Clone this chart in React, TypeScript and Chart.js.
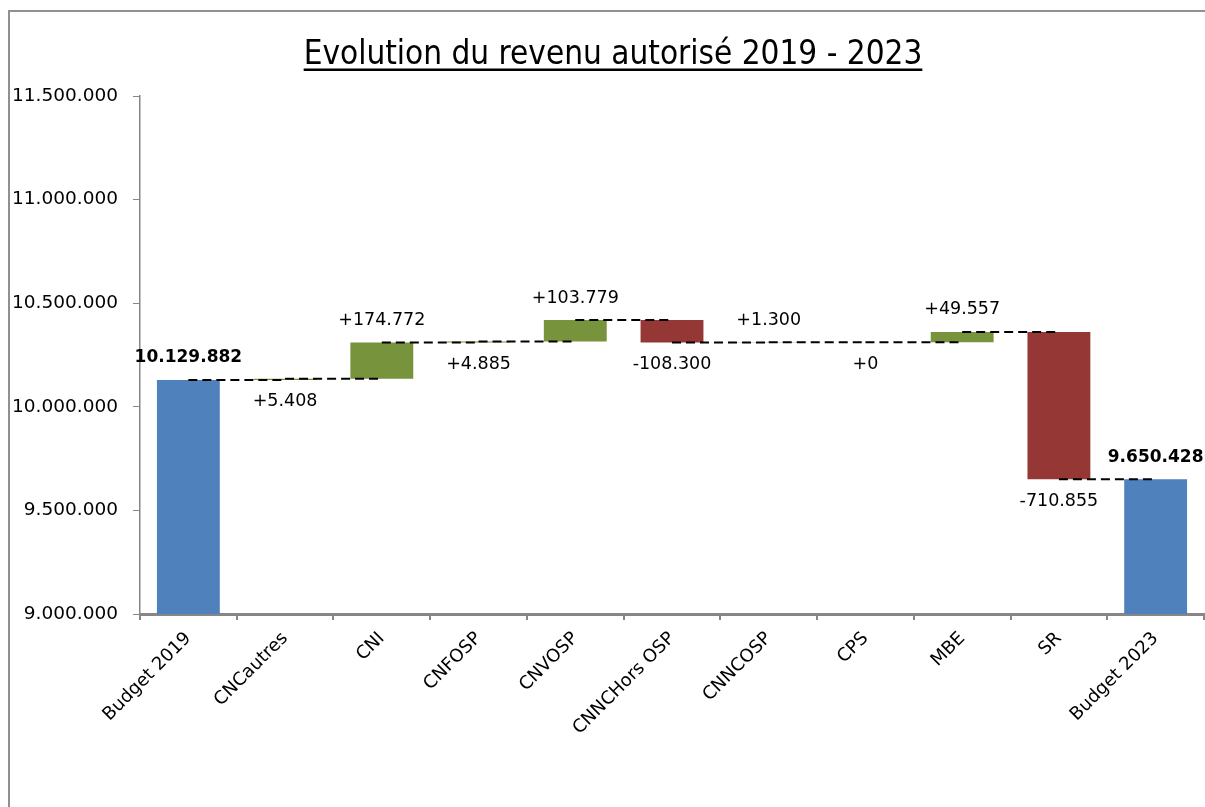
import React, { useEffect, useRef } from 'react';
import { Chart, registerables } from 'chart.js';

Chart.register(...registerables);

const title = 'Evolution du revenu autorisé 2019 - 2023';
const categories = ['Budget 2019', 'CNCautres', 'CNI', 'CNFOSP', 'CNVOSP', 'CNNCHors OSP', 'CNNCOSP', 'CPS', 'MBE', 'SR', 'Budget 2023'];
const startTotal = 10129882;
const deltas = [5408, 174772, 4885, 103779, -108300, 1300, 0, 49557, -710855];
const endTotal = 9650428;
const labelSides = ['above', 'below', 'above', 'below', 'above', 'below', 'above', 'below', 'above', 'below', 'above'];
const yTicks = [9000000, 9500000, 10000000, 10500000, 11000000, 11500000];

const COL_TOTAL = '#4F81BD';
const COL_UP = '#77933C';
const COL_DOWN = '#953735';
const AXIS = '#868686';

function fmt(n: number): string {
  const s = Math.abs(Math.round(n)).toString().replace(/\B(?=(\d{3})+(?!\d))/g, '.');
  return n < 0 ? '-' + s : s;
}

export default function App() {
  const ref = useRef<HTMLCanvasElement | null>(null);

  useEffect(() => {
    if (!ref.current) return;
    const levels: number[] = [startTotal];
    deltas.forEach((d) => levels.push(levels[levels.length - 1] + d));
    const barData: [number, number][] = [];
    const colors: string[] = [];
    const texts: string[] = [];
    const bold: boolean[] = [];
    barData.push([0, startTotal]);
    colors.push(COL_TOTAL);
    texts.push(fmt(startTotal));
    bold.push(true);
    deltas.forEach((d, i) => {
      barData.push([levels[i], levels[i + 1]]);
      colors.push(d < 0 ? COL_DOWN : COL_UP);
      texts.push((d < 0 ? '' : '+') + fmt(d));
      bold.push(false);
    });
    barData.push([0, endTotal]);
    colors.push(COL_TOTAL);
    texts.push(fmt(endTotal));
    bold.push(true);

    const allLevels = [...levels, endTotal];
    const connector: { x: string; y: number | null }[] = [];
    for (let i = 0; i < categories.length - 1; i++) {
      connector.push({ x: categories[i], y: allLevels[i] });
      connector.push({ x: categories[i + 1], y: allLevels[i] });
      connector.push({ x: categories[i + 1], y: null });
    }

    const titlePlugin = {
      id: 'titleUnderline',
      afterDraw(chart: any) {
        const ctx = chart.ctx;
        ctx.save();
        ctx.font = "33px 'Liberation Sans Narrow', 'DejaVu Sans Condensed', sans-serif";
        ctx.fillStyle = '#000';
        ctx.textAlign = 'center';
        ctx.textBaseline = 'alphabetic';
        const cx = 613;
        const by = 64;
        ctx.fillText(title, cx, by);
        const w = ctx.measureText(title).width;
        ctx.fillRect(cx - w / 2, by + 4.5, w, 2.5);
        ctx.restore();
      },
    };

    const labelPlugin = {
      id: 'valueLabels',
      afterDatasetsDraw(chart: any) {
        const ctx = chart.ctx;
        const meta = chart.getDatasetMeta(0);
        const ys = chart.scales.y;
        ctx.save();
        ctx.fillStyle = '#000';
        ctx.textAlign = 'center';
        ctx.textBaseline = 'middle';
        meta.data.forEach((el: any, i: number) => {
          const [a, b] = barData[i];
          const top = ys.getPixelForValue(Math.max(a, b));
          const bot = ys.getPixelForValue(Math.min(a, b));
          ctx.font = bold[i] ? "bold 17px 'DejaVu Sans', sans-serif" : "17.5px 'DejaVu Sans', sans-serif";
          const y = labelSides[i] === 'above' ? top - 22 : bot + 22;
          ctx.fillText(texts[i], el.x, y);
        });
        ctx.restore();
      },
    };

    const chart = new Chart(ref.current, {
      type: 'bar',
      data: {
        labels: categories,
        datasets: [
          {
            type: 'bar',
            data: barData as any,
            backgroundColor: colors,
            borderWidth: 0,
            categoryPercentage: 1,
            barPercentage: 0.65,
            order: 2,
          } as any,
          {
            type: 'line',
            data: connector as any,
            borderColor: '#000',
            borderWidth: 2,
            borderDash: [9, 5],
            pointRadius: 0,
            fill: false,
            spanGaps: false,
            order: 1,
          } as any,
        ],
      },
      options: {
        responsive: false,
        animation: false,
        layout: { padding: { left: 0, top: 96, right: 1, bottom: 0 } },
        plugins: { legend: { display: false }, tooltip: { enabled: false }, title: { display: false } },
        scales: {
          x: {
            type: 'category',
            offset: true,
            grid: { display: true, drawOnChartArea: false, drawTicks: true, tickLength: 6, color: AXIS, lineWidth: 2, offset: true },
            border: { display: true, color: AXIS, width: 3 },
            ticks: {
              color: '#000',
              font: { family: "'DejaVu Sans', sans-serif", size: 18 },
              maxRotation: 45,
              minRotation: 45,
              padding: 8,
              autoSkip: false,
            },
            afterFit(scale: any) {
              scale.height = 807 - 614;
            },
          },
          y: {
            type: 'linear',
            min: 9000000,
            max: 11500000,
            afterBuildTicks(scale: any) {
              scale.ticks = yTicks.map((v) => ({ value: v }));
            },
            grid: { display: true, drawOnChartArea: false, drawTicks: true, tickLength: 7, color: AXIS, lineWidth: 1 },
            border: { display: true, color: AXIS, width: 1.5 },
            ticks: {
              color: '#000',
              font: { family: "'DejaVu Sans', sans-serif", size: 18.5 },
              padding: 15,
              callback: (v: any) => fmt(Number(v)),
            },
            afterFit(scale: any) {
              scale.width = 140;
            },
          },
        },
      },
      plugins: [titlePlugin, labelPlugin],
    });
    return () => chart.destroy();
  }, []);

  return (
    <div style={{ position: 'absolute', left: 0, top: 0, width: 1205, height: 807, overflow: 'hidden', background: '#fff' }}>
      <canvas ref={ref} width={1205} height={807} style={{ position: 'absolute', left: 0, top: 0 }} />
      <div
        style={{
          position: 'absolute',
          left: 8,
          top: 10,
          width: 1300,
          height: 900,
          border: '2px solid #909090',
          pointerEvents: 'none',
        }}
      />
    </div>
  );
}
